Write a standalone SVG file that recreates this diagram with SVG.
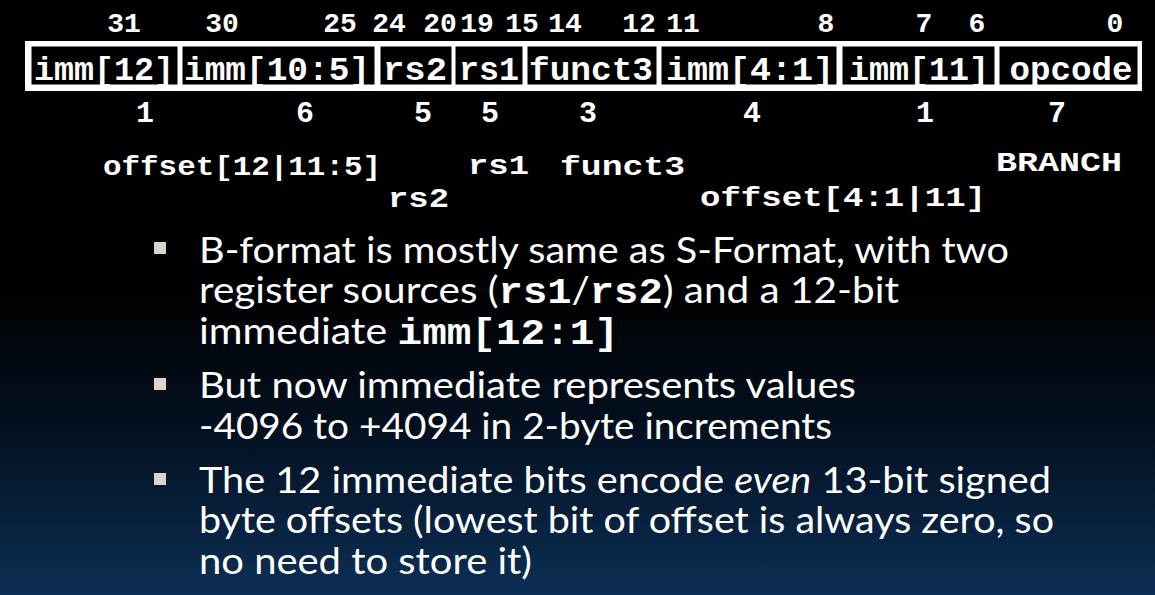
<svg xmlns="http://www.w3.org/2000/svg" width="1155" height="595" viewBox="0 0 1155 595">
<defs>
<linearGradient id="bg" x1="0" y1="0" x2="0" y2="1">
<stop offset="0" stop-color="#000000"/>
<stop offset="0.48" stop-color="#000000"/>
<stop offset="0.72" stop-color="#031020"/>
<stop offset="1" stop-color="#0c2f55"/>
</linearGradient>
<style>
.mono{font-family:"Liberation Mono","Courier New",monospace;font-weight:bold;fill:#ffffff}
.bit{font-size:28px;text-anchor:middle}
.cnt{font-size:30px;text-anchor:middle}
.cell{fill:#000000;stroke:#ffffff;stroke-width:1}
.lbl{font-size:33px;text-anchor:middle}
.fld{font-size:27px}
.body{font-family:Lato,"Open Sans","Liberation Sans",sans-serif;font-size:37px;fill:#ffffff}
.code{font-family:"Liberation Mono","Courier New",monospace;font-weight:bold}
.bul{fill:#d9d5cd}
</style>
</defs>
<rect x="0" y="0" width="1155" height="595" fill="url(#bg)"/>

<g id="bit-numbers" class="mono bit">
<text x="124" y="32">31</text>
<text x="222" y="32">30</text>
<text x="340" y="32">25</text>
<text x="389" y="32">24</text>
<text x="440" y="32">20</text>
<text x="477" y="32">19</text>
<text x="522" y="32">15</text>
<text x="565" y="32">14</text>
<text x="639" y="32">12</text>
<text x="683" y="32">11</text>
<text x="826" y="32">8</text>
<text x="924" y="32">7</text>
<text x="977" y="32">6</text>
<text x="1115" y="32">0</text>
</g>

<g id="instruction-frame">
<rect x="25" y="41" width="1117" height="50" fill="#ffffff"/>
</g>
<g id="field-imm12">
<rect class="cell" x="31" y="46" width="147" height="39"/>
<text class="mono lbl" x="104" y="80" textLength="140" lengthAdjust="spacingAndGlyphs">imm[12]</text>
</g>
<g id="field-imm10-5">
<rect class="cell" x="182" y="46" width="193" height="39"/>
<text class="mono lbl" x="277" y="80" textLength="186" lengthAdjust="spacingAndGlyphs">imm[10:5]</text>
</g>
<g id="field-rs2">
<rect class="cell" x="380" y="46" width="72" height="39"/>
<text class="mono lbl" x="415" y="80" textLength="64" lengthAdjust="spacingAndGlyphs">rs2</text>
</g>
<g id="field-rs1">
<rect class="cell" x="455" y="46" width="68" height="39"/>
<text class="mono lbl" x="489" y="80" textLength="60" lengthAdjust="spacingAndGlyphs">rs1</text>
</g>
<g id="field-funct3">
<rect class="cell" x="527" y="46" width="130" height="39"/>
<text class="mono lbl" x="591" y="80" textLength="124" lengthAdjust="spacingAndGlyphs">funct3</text>
</g>
<g id="field-imm4-1">
<rect class="cell" x="661" y="46" width="176" height="39"/>
<text class="mono lbl" x="750" y="80" textLength="168" lengthAdjust="spacingAndGlyphs">imm[4:1]</text>
</g>
<g id="field-imm11">
<rect class="cell" x="842" y="46" width="153" height="39"/>
<text class="mono lbl" x="919" y="80" textLength="140" lengthAdjust="spacingAndGlyphs">imm[11]</text>
</g>
<g id="field-opcode">
<rect class="cell" x="999" y="46" width="139" height="39"/>
<text class="mono lbl" x="1071" y="80" textLength="123" lengthAdjust="spacingAndGlyphs">opcode</text>
</g>

<g id="field-widths" class="mono cnt">
<text x="145" y="122">1</text>
<text x="305" y="122">6</text>
<text x="423" y="122">5</text>
<text x="490" y="122">5</text>
<text x="588" y="122">3</text>
<text x="752" y="122">4</text>
<text x="925" y="122">1</text>
<text x="1057" y="122">7</text>
</g>

<g id="field-meanings" class="mono fld">
<text x="103" y="175" textLength="278" lengthAdjust="spacingAndGlyphs">offset[12|11:5]</text>
<text x="388" y="207" textLength="61" lengthAdjust="spacingAndGlyphs">rs2</text>
<text x="468" y="174" textLength="61" lengthAdjust="spacingAndGlyphs">rs1</text>
<text x="560" y="175" textLength="125" lengthAdjust="spacingAndGlyphs">funct3</text>
<text x="700" y="206" textLength="286" lengthAdjust="spacingAndGlyphs">offset[4:1|11]</text>
<text x="996" y="171" textLength="126" lengthAdjust="spacingAndGlyphs">BRANCH</text>
</g>

<g id="bullet-1">
<rect class="bul" x="154" y="242" width="12" height="12"/>
<text class="body" x="199" y="263" textLength="810" lengthAdjust="spacingAndGlyphs">B-format is mostly same as S-Format, with two</text>
<text class="body" x="199" y="303" textLength="700" lengthAdjust="spacingAndGlyphs">register sources (<tspan class="code">rs1</tspan>/<tspan class="code">rs2</tspan>) and a 12-bit</text>
<text class="body" x="199" y="344" textLength="420" lengthAdjust="spacingAndGlyphs">immediate <tspan class="code">imm[12:1]</tspan></text>
</g>
<g id="bullet-2">
<rect class="bul" x="154" y="378" width="12" height="12"/>
<text class="body" x="199" y="398" textLength="657" lengthAdjust="spacingAndGlyphs">But now immediate represents values</text>
<text class="body" x="199" y="439" textLength="633" lengthAdjust="spacingAndGlyphs">-4096 to +4094 in 2-byte increments</text>
</g>
<g id="bullet-3">
<rect class="bul" x="154" y="473" width="12" height="12"/>
<text class="body" x="199" y="493" textLength="852" lengthAdjust="spacingAndGlyphs">The 12 immediate bits encode <tspan font-style="italic">even</tspan> 13-bit signed</text>
<text class="body" x="199" y="533" textLength="855" lengthAdjust="spacingAndGlyphs">byte offsets (lowest bit of offset is always zero, so</text>
<text class="body" x="199" y="574" textLength="333" lengthAdjust="spacingAndGlyphs">no need to store it)</text>
</g>
</svg>
